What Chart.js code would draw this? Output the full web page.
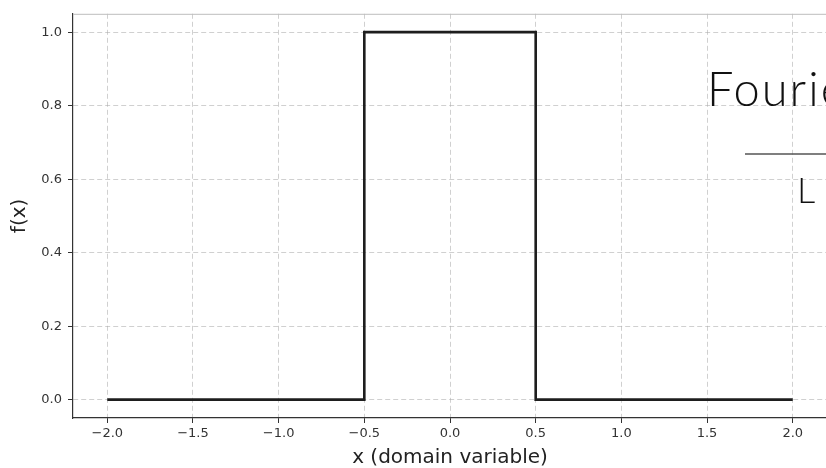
<!DOCTYPE html>
<html>
<head>
<meta charset="utf-8">
<script src="https://cdn.jsdelivr.net/npm/chart.js@4/dist/chart.umd.min.js"></script>
<style>
  html, body { margin: 0; padding: 0; background: #fff; overflow: hidden; }
  #wrap { position: absolute; left: 0; top: 0; width: 840px; height: 468px; }
</style>
</head>
<body>
<div id="wrap"><canvas id="c" width="840" height="468"></canvas></div>
<script>
// Rectangular pulse f(x): 1 on [-0.5, 0.5], 0 elsewhere, sampled at its corners
const xValues = [-2.0, -0.5, -0.5, 0.5, 0.5, 2.0];
const fValues = [0, 0, 1, 1, 0, 0];

// Axis ticks
const xTicks = [-2.0, -1.5, -1.0, -0.5, 0.0, 0.5, 1.0, 1.5, 2.0];
const yTicks = [0.0, 0.2, 0.4, 0.6, 0.8, 1.0];

// Overlay caption
const captionTitle = 'Fourier';
const captionBelow = 'L';

const points = xValues.map((x, i) => ({ x: x, y: fValues[i] }));
const fmt = v => (v < 0 ? '\u2212' : '') + Math.abs(v).toFixed(1);

const gridColor = 'rgba(170,170,170,0.55)';
const tickFont = { family: 'DejaVu Sans', size: 13 };
const titleFont = { family: 'DejaVu Sans', size: 20, lineHeight: 1 };

const frameAndCaption = {
  id: 'frameAndCaption',
  afterDraw(chart) {
    const { ctx, chartArea } = chart;
    ctx.save();
    // light top frame line
    ctx.strokeStyle = '#bdbdbd';
    ctx.lineWidth = 1;
    ctx.beginPath();
    ctx.moveTo(chartArea.left, chartArea.top + 0.5);
    ctx.lineTo(chartArea.right, chartArea.top + 0.5);
    ctx.stroke();

    // caption
    ctx.fillStyle = '#111';
    ctx.textBaseline = 'alphabetic';
    ctx.textAlign = 'left';
    ctx.font = '300 47px Lato';
    ctx.letterSpacing = '2px';
    ctx.fillText(captionTitle, 707, 106);

    ctx.strokeStyle = '#555';
    ctx.lineWidth = 1.5;
    ctx.beginPath();
    ctx.moveTo(745, 154);
    ctx.lineTo(840, 154);
    ctx.stroke();

    ctx.letterSpacing = '0px';
    ctx.font = '300 36px Lato';
    ctx.fillText(captionBelow, 797, 203);
    ctx.restore();
  }
};

new Chart(document.getElementById('c'), {
  type: 'line',
  data: {
    datasets: [{
      data: points,
      borderColor: '#1e1e1e',
      borderWidth: 2.6,
      pointRadius: 0,
      tension: 0,
      fill: false
    }]
  },
  options: {
    responsive: false,
    animation: false,
    layout: { padding: { left: 0, top: 8, right: 13, bottom: 0 } },
    plugins: { legend: { display: false }, tooltip: { enabled: false } },
    scales: {
      x: {
        type: 'linear',
        min: -2.2,
        max: 2.2,
        afterBuildTicks: s => { s.ticks = xTicks.map(v => ({ value: v })); },
        afterFit: s => { s.height = 50; },
        ticks: {
          callback: v => fmt(v),
          font: tickFont,
          color: '#333',
          padding: 3,
          maxRotation: 0,
          autoSkip: false
        },
        grid: {
          color: gridColor,
          lineWidth: 1,
          tickColor: '#333',
          tickLength: 5,
          tickWidth: 1
        },
        border: { display: true, color: '#333', width: 1.2, dash: [5, 3] },
        title: {
          display: true,
          text: 'x (domain variable)',
          font: titleFont,
          color: '#222',
          padding: { top: 0, bottom: 0 }
        }
      },
      y: {
        min: -0.05,
        max: 1.05,
        afterBuildTicks: s => { s.ticks = yTicks.map(v => ({ value: v })); },
        afterFit: s => { s.width = 73; },
        ticks: {
          callback: v => fmt(v),
          font: tickFont,
          color: '#333',
          padding: 6,
          autoSkip: false
        },
        grid: {
          color: gridColor,
          lineWidth: 1,
          tickColor: '#333',
          tickLength: 5,
          tickWidth: 1
        },
        border: { display: true, color: '#333', width: 1.2, dash: [5, 3] },
        title: {
          display: true,
          text: 'f(x)',
          font: titleFont,
          color: '#222',
          padding: { top: 10, bottom: 0 }
        }
      }
    }
  },
  plugins: [frameAndCaption]
});
</script>
</body>
</html>
